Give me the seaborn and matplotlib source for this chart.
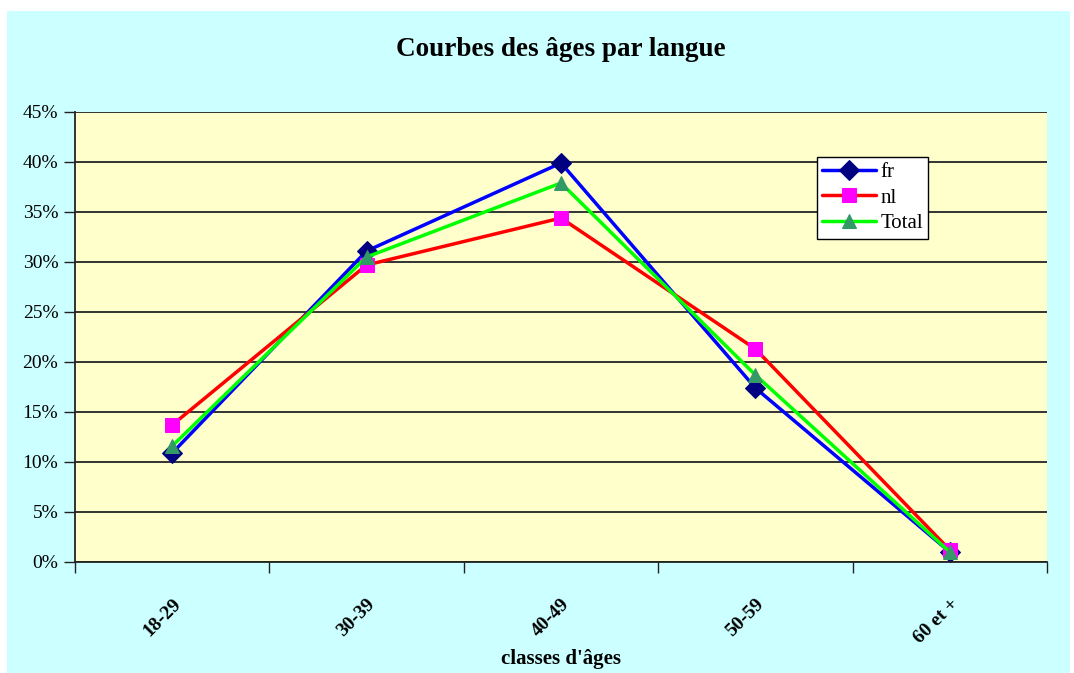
import matplotlib
matplotlib.use("Agg")
import matplotlib.pyplot as plt
import seaborn as sns
from matplotlib.patches import Rectangle
from matplotlib.ticker import PercentFormatter

# ---- data (share of each age class, in %) ----
age_classes = ["18-29", "30-39", "40-49", "50-59", "60 et +"]
fr = [10.9, 31.1, 39.9, 17.4, 1.0]
nl = [13.7, 29.7, 34.4, 21.3, 1.2]
total = [11.6, 30.5, 37.9, 18.7, 1.0]

series = [
    ("fr", fr, "#0000FF", "D", "#000080"),
    ("nl", nl, "#FF0000", "s", "#FF00FF"),
    ("Total", total, "#00FF00", "^", "#339966"),
]

sns.set_style("white")
plt.rcParams["font.family"] = ["Liberation Serif", "DejaVu Serif"]
plt.rcParams["text.color"] = "black"
plt.rcParams["axes.labelcolor"] = "black"
plt.rcParams["xtick.color"] = "black"
plt.rcParams["ytick.color"] = "black"

fig = plt.figure(figsize=(10.74, 6.73), dpi=100)
fig.patch.set_facecolor("white")
fig.add_artist(Rectangle((7 / 1074, 0), 1063 / 1074, 662 / 673,
                         transform=fig.transFigure, facecolor="#CCFFFF",
                         edgecolor="none", zorder=-10))

ax = fig.add_axes([75 / 1074, 1 - 562 / 673, 972 / 1074, 450 / 673])
ax.set_facecolor("#FFFFCC")

x_pos = list(range(len(age_classes)))
for name, vals, col, mk, mcol in series:
    sns.lineplot(x=x_pos, y=vals, ax=ax, color=col, linewidth=2.5,
                 marker=mk, markersize=10, markerfacecolor=mcol,
                 markeredgecolor=mcol, label=name)

ax.set_xlim(-0.5, len(age_classes) - 0.5)
ax.set_ylim(0, 45)
ax.set_yticks(range(0, 50, 5))
ax.yaxis.set_major_formatter(PercentFormatter(decimals=0))
ax.yaxis.grid(True, color="#333333", linewidth=1.4)
ax.set_axisbelow(True)

# category labels centered, ticks at boundaries
ax.set_xticks(x_pos)
ax.set_xticklabels(age_classes, rotation=45, ha="right", rotation_mode="anchor",
                   fontsize=14, fontweight="bold")
ax.set_xticks([i + 0.5 for i in range(-1, len(age_classes))], minor=True)
ax.tick_params(axis="x", which="major", length=0, pad=24)
ax.tick_params(axis="x", which="minor", length=8, width=1, color="#222222",
               direction="out", bottom=True)
ax.tick_params(axis="y", length=8, width=1, color="#222222", direction="out",
               left=True, labelsize=14, pad=4)

for side in ["top", "right"]:
    ax.spines[side].set_visible(False)
for side in ["left", "bottom"]:
    ax.spines[side].set_color("#222222")
    ax.spines[side].set_linewidth(1.3)

ax.set_xlabel("classes d'âges", fontsize=15, fontweight="bold", labelpad=2)
ax.set_ylabel("")
ax.set_title("Courbes des âges par langue", fontsize=19.5, fontweight="bold", pad=40)

leg = ax.legend(loc="upper left", bbox_to_anchor=(0.763, 0.9), frameon=True,
                fancybox=False, framealpha=1, edgecolor="black", fontsize=15,
                handlelength=2.6, borderpad=0.25, labelspacing=0.3,
                handletextpad=0.2, borderaxespad=0)
leg.get_frame().set_linewidth(1)

fig.savefig("out.png", dpi=100)
